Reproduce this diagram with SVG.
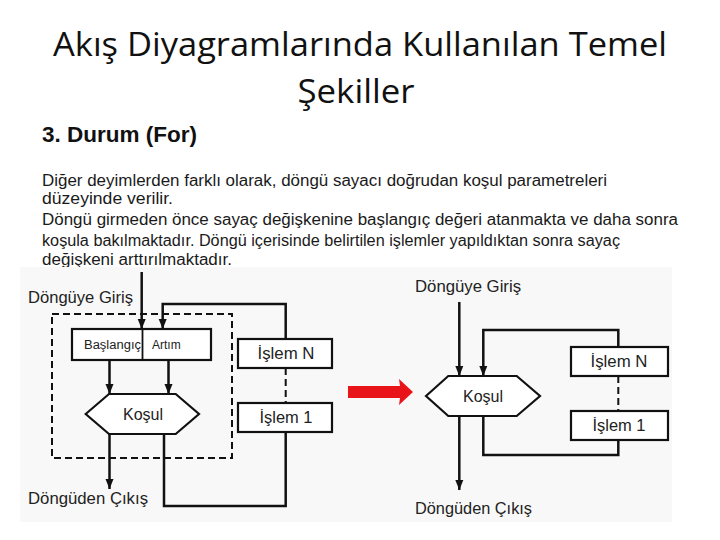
<svg xmlns="http://www.w3.org/2000/svg" width="720" height="540" viewBox="0 0 720 540">
<style>
.title{font-family:"Open Sans","Noto Sans",sans-serif;font-size:32px;fill:#111}
.head{font-family:"Liberation Sans",Arial,sans-serif;font-size:22px;font-weight:bold;fill:#111}
.para{font-family:"Liberation Sans",Arial,sans-serif;font-size:16px;fill:#1a1a1a}
.lbl{font-family:"Liberation Sans",Arial,sans-serif;font-size:16px;fill:#222}
.sm{font-family:"Liberation Sans",Arial,sans-serif;font-size:12px;fill:#222}
.box{fill:#fff;stroke:#111;stroke-width:2.2}
.ln{fill:none;stroke:#111;stroke-width:2.5}
.dash{fill:none;stroke:#111;stroke-width:2;stroke-dasharray:7 4}
</style>
<defs>
<marker id="ah" markerUnits="userSpaceOnUse" markerWidth="10" markerHeight="10" viewBox="0 0 10 10" refX="10" refY="5" orient="auto">
<path d="M0,1 L10,5 L0,9 Z" fill="#111"/>
</marker>
</defs>
<rect width="720" height="540" fill="#fff"/>
<g id="title">
<text class="title" x="360" y="56" text-anchor="middle" textLength="614" lengthAdjust="spacingAndGlyphs">Akış Diyagramlarında Kullanılan Temel</text>
<text class="title" x="356" y="103" text-anchor="middle" textLength="117" lengthAdjust="spacingAndGlyphs">Şekiller</text>
</g>
<g id="text">
<text class="head" x="42" y="142" textLength="155" lengthAdjust="spacingAndGlyphs">3. Durum (For)</text>
<text class="para" x="42" y="186" textLength="565" lengthAdjust="spacingAndGlyphs">Diğer deyimlerden farklı olarak, döngü sayacı doğrudan koşul parametreleri</text>
<text class="para" x="42" y="204" textLength="131" lengthAdjust="spacingAndGlyphs">düzeyinde verilir.</text>
<text class="para" x="42" y="225" textLength="636" lengthAdjust="spacingAndGlyphs">Döngü girmeden önce sayaç değişkenine başlangıç değeri atanmakta ve daha sonra</text>
<text class="para" x="42" y="246" textLength="578" lengthAdjust="spacingAndGlyphs">koşula bakılmaktadır. Döngü içerisinde belirtilen işlemler yapıldıktan sonra sayaç</text>
<text class="para" x="42" y="265" textLength="190" lengthAdjust="spacingAndGlyphs">değişkeni arttırılmaktadır.</text>
</g>
<rect x="20" y="267" width="652" height="255" fill="#f8f8f8"/>
<g id="connectors">
<line class="ln" x1="141.7" y1="272" x2="141.7" y2="329" marker-end="url(#ah)"/>
<polyline class="ln" points="285.7,339 285.7,304 162.7,304 162.7,329" marker-end="url(#ah)"/>
<line class="ln" x1="109.5" y1="360" x2="109.5" y2="394" marker-end="url(#ah)"/>
<line class="ln" x1="168.5" y1="360" x2="168.5" y2="394" marker-end="url(#ah)"/>
<line class="dash" x1="285.7" y1="368" x2="285.7" y2="403"/>
<polyline class="ln" points="285.7,432 285.7,506 164,506 164,434"/>
<line class="ln" x1="109.5" y1="434" x2="109.5" y2="489" marker-end="url(#ah)"/>
<line class="ln" x1="459.3" y1="302" x2="459.3" y2="376" marker-end="url(#ah)"/>
<polyline class="ln" points="618.3,347 618.3,330 483.3,330 483.3,376" marker-end="url(#ah)"/>
<line class="dash" x1="618.3" y1="376" x2="618.3" y2="411"/>
<polyline class="ln" points="618.3,440 618.3,455 483.3,455 483.3,416"/>
<line class="ln" x1="459.3" y1="416" x2="459.3" y2="490" marker-end="url(#ah)"/>
</g>
<g id="left-scope"><rect class="dash" x="52" y="314" width="180" height="144"/></g>
<g id="left-init">
<rect class="box" x="72" y="329" width="139" height="31"/>
<line stroke="#111" stroke-width="1.8" x1="142.5" y1="329" x2="142.5" y2="360"/>
<text class="sm" x="84" y="349" textLength="57" lengthAdjust="spacingAndGlyphs">Başlangıç</text>
<text class="sm" x="152" y="349">Artım</text>
</g>
<g id="left-kosul">
<polygon class="box" points="85.7,414 109,394 175.7,394 199,414 175.7,434 109,434"/>
<text class="lbl" x="143" y="420" text-anchor="middle">Koşul</text>
</g>
<g id="left-islemN">
<rect class="box" x="238" y="339" width="94" height="29"/>
<text class="lbl" x="286" y="359" text-anchor="middle" textLength="57" lengthAdjust="spacingAndGlyphs">İşlem N</text>
</g>
<g id="left-islem1">
<rect class="box" x="238" y="403" width="94" height="29"/>
<text class="lbl" x="286" y="423" text-anchor="middle" textLength="53" lengthAdjust="spacingAndGlyphs">İşlem 1</text>
</g>
<g id="left-labels">
<text class="lbl" x="28" y="303" textLength="105" lengthAdjust="spacingAndGlyphs">Döngüye Giriş</text>
<text class="lbl" x="28" y="504" textLength="120" lengthAdjust="spacingAndGlyphs">Döngüden Çıkış</text>
</g>
<g id="red-arrow">
<polygon points="348,386 400,386 399,379 413,392 399,405 400,398 348,398" fill="#e8141a"/>
</g>
<g id="right-kosul">
<polygon class="box" points="426,396 448.3,376 516.7,376 540,396 516.7,416 448.3,416"/>
<text class="lbl" x="483" y="402" text-anchor="middle">Koşul</text>
</g>
<g id="right-islemN">
<rect class="box" x="571" y="347" width="97" height="29"/>
<text class="lbl" x="619" y="367" text-anchor="middle" textLength="57" lengthAdjust="spacingAndGlyphs">İşlem N</text>
</g>
<g id="right-islem1">
<rect class="box" x="571" y="411" width="97" height="29"/>
<text class="lbl" x="619" y="431" text-anchor="middle" textLength="53" lengthAdjust="spacingAndGlyphs">İşlem 1</text>
</g>
<g id="right-labels">
<text class="lbl" x="415" y="292" textLength="106" lengthAdjust="spacingAndGlyphs">Döngüye Giriş</text>
<text class="lbl" x="415" y="514" textLength="117" lengthAdjust="spacingAndGlyphs">Döngüden Çıkış</text>
</g>
</svg>
